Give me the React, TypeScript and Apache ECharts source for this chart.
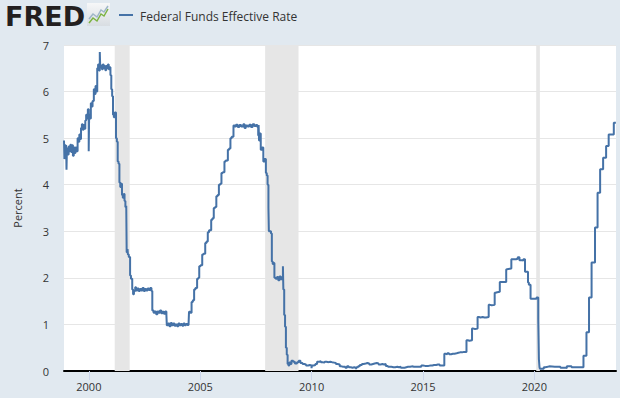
import React, { useEffect, useRef } from "react";
import * as echarts from "echarts";

const seriesName = "Federal Funds Effective Rate";
const yAxisName = "Percent";
const xTickYears = [2000, 2005, 2010, 2015, 2020];
const axisStart = "1998-11-20";
const axisEnd = "2023-09-01";

const recessions: [string, string][] = [
  ["2001-03-01", "2001-11-01"],
  ["2007-12-01", "2009-06-01"],
  ["2020-02-01", "2020-04-01"],
];

const rate1998to2002: [string, number][] = [
  ["1998-11-20", 4.95], ["1998-11-27", 4.55], ["1998-12-04", 4.85], ["1998-12-18", 4.62],
  ["1998-12-25", 4.85], ["1998-12-31", 4.32], ["1999-01-07", 4.78], ["1999-01-21", 4.65],
  ["1999-02-04", 4.82], ["1999-02-18", 4.72], ["1999-03-04", 4.86], ["1999-03-18", 4.7],
  ["1999-04-01", 4.85], ["1999-04-15", 4.62], ["1999-04-29", 4.8], ["1999-05-13", 4.68],
  ["1999-05-27", 4.8], ["1999-06-10", 4.72], ["1999-07-01", 5.0], ["1999-07-15", 4.92],
  ["1999-07-29", 5.08], ["1999-08-12", 4.98], ["1999-08-26", 5.22], ["1999-09-09", 5.3],
  ["1999-09-23", 5.18], ["1999-10-07", 5.28], ["1999-10-21", 5.2], ["1999-11-04", 5.38],
  ["1999-11-18", 5.5], ["1999-12-02", 5.42], ["1999-12-16", 5.62], ["1999-12-30", 4.72],
  ["2000-01-06", 5.5], ["2000-01-20", 5.42], ["2000-02-03", 5.75], ["2000-02-17", 5.68],
  ["2000-03-02", 5.8], ["2000-03-23", 6.05], ["2000-04-06", 5.95], ["2000-04-20", 6.12],
  ["2000-05-04", 6.0], ["2000-05-18", 6.5], ["2000-06-01", 6.58], ["2000-06-15", 6.45],
  ["2000-06-29", 6.85], ["2000-07-06", 6.52], ["2000-07-20", 6.56], ["2000-08-03", 6.48],
  ["2000-08-17", 6.58], ["2000-08-31", 6.5], ["2000-09-14", 6.55], ["2000-09-28", 6.46],
  ["2000-10-12", 6.55], ["2000-10-26", 6.5], ["2000-11-09", 6.58], ["2000-11-23", 6.48],
  ["2000-12-07", 6.52], ["2000-12-21", 6.35], ["2001-01-04", 6.05], ["2001-01-18", 5.9],
  ["2001-02-01", 5.5], ["2001-02-15", 5.45], ["2001-03-01", 5.55], ["2001-03-22", 5.0],
  ["2001-04-05", 4.92], ["2001-04-19", 4.5], ["2001-05-03", 4.45], ["2001-05-17", 4.05],
  ["2001-05-31", 3.95], ["2001-06-14", 4.02], ["2001-06-28", 3.78], ["2001-07-12", 3.72],
  ["2001-07-26", 3.8], ["2001-08-09", 3.65], ["2001-08-23", 3.52], ["2001-09-06", 3.55],
  ["2001-09-13", 2.55], ["2001-09-27", 2.62], ["2001-10-04", 2.5], ["2001-10-18", 2.45],
  ["2001-11-08", 2.05], ["2001-11-22", 1.98], ["2001-12-13", 1.75], ["2001-12-27", 1.65],
];

const rate2002to2008: [string, number][] = [
  ["2002-01-10", 1.72], ["2002-01-31", 1.8], ["2002-02-14", 1.73], ["2002-03-07", 1.77],
  ["2002-03-28", 1.72], ["2002-04-18", 1.76], ["2002-05-09", 1.73], ["2002-05-30", 1.78],
  ["2002-06-20", 1.72], ["2002-07-11", 1.76], ["2002-08-01", 1.73], ["2002-08-22", 1.77],
  ["2002-09-12", 1.74], ["2002-10-03", 1.78], ["2002-10-24", 1.72], ["2002-11-07", 1.3],
  ["2002-11-28", 1.25], ["2002-12-19", 1.28], ["2003-01-09", 1.22], ["2003-01-30", 1.28],
  ["2003-02-20", 1.25], ["2003-03-13", 1.3], ["2003-04-03", 1.24], ["2003-04-24", 1.27],
  ["2003-05-15", 1.23], ["2003-06-05", 1.28], ["2003-06-26", 1.2], ["2003-07-03", 0.98],
  ["2003-07-24", 1.02], ["2003-08-14", 0.96], ["2003-09-04", 1.03], ["2003-09-25", 0.98],
  ["2003-10-16", 1.02], ["2003-11-06", 0.97], ["2003-11-27", 1.0], ["2003-12-18", 0.96],
  ["2004-01-08", 1.02], ["2004-01-29", 0.98], ["2004-02-19", 1.01], ["2004-03-11", 0.97],
  ["2004-04-01", 1.02], ["2004-04-22", 0.98], ["2004-05-13", 1.01], ["2004-06-03", 0.99],
  ["2004-06-24", 1.02], ["2004-07-01", 1.27], ["2004-07-22", 1.25], ["2004-08-12", 1.48],
  ["2004-09-02", 1.52], ["2004-09-23", 1.75], ["2004-10-14", 1.78], ["2004-11-11", 1.98],
  ["2004-12-02", 2.0], ["2004-12-16", 2.25], ["2005-01-06", 2.27], ["2005-02-03", 2.5],
  ["2005-02-24", 2.52], ["2005-03-24", 2.75], ["2005-04-14", 2.78], ["2005-05-05", 2.98],
  ["2005-05-26", 3.02], ["2005-06-30", 3.25], ["2005-07-21", 3.28], ["2005-08-11", 3.5],
  ["2005-09-01", 3.52], ["2005-09-22", 3.75], ["2005-10-13", 3.78], ["2005-11-03", 4.0],
  ["2005-11-24", 4.02], ["2005-12-15", 4.25], ["2006-01-05", 4.27], ["2006-02-02", 4.5],
  ["2006-02-23", 4.52], ["2006-03-30", 4.75], ["2006-04-20", 4.78], ["2006-05-11", 5.0],
  ["2006-06-01", 5.03], ["2006-06-30", 5.27], ["2006-07-20", 5.25], ["2006-08-10", 5.29],
  ["2006-09-07", 5.24], ["2006-10-05", 5.28], ["2006-11-02", 5.25], ["2006-12-07", 5.3],
  ["2006-12-28", 5.22], ["2007-01-18", 5.27], ["2007-02-15", 5.25], ["2007-03-15", 5.29],
  ["2007-04-12", 5.24], ["2007-05-10", 5.3], ["2007-06-07", 5.26], ["2007-07-05", 5.28],
  ["2007-07-26", 5.24], ["2007-08-09", 5.05], ["2007-08-16", 5.28], ["2007-08-23", 4.95],
  ["2007-09-06", 5.1], ["2007-09-20", 4.75], ["2007-10-11", 4.8], ["2007-11-01", 4.5],
  ["2007-11-22", 4.55], ["2007-12-13", 4.25], ["2007-12-27", 4.2], ["2008-01-10", 4.0],
  ["2008-01-24", 3.5], ["2008-01-31", 3.0], ["2008-02-21", 3.0], ["2008-03-06", 2.95],
  ["2008-03-20", 2.35], ["2008-04-03", 2.3], ["2008-04-17", 2.32], ["2008-05-01", 2.0],
  ["2008-05-22", 1.98], ["2008-06-12", 2.02], ["2008-07-03", 1.95], ["2008-07-24", 2.03],
  ["2008-08-14", 1.97], ["2008-09-04", 2.02], ["2008-09-18", 2.25], ["2008-09-25", 1.75],
  ["2008-10-09", 1.2], ["2008-10-23", 0.95], ["2008-11-06", 0.5], ["2008-11-20", 0.35],
  ["2008-12-04", 0.15], ["2008-12-18", 0.12],
];

const rate2009to2015: [string, number][] = [
  ["2009-01-01", 0.18], ["2009-01-15", 0.15], ["2009-02-05", 0.22], ["2009-03-05", 0.2],
  ["2009-04-02", 0.16], ["2009-05-07", 0.19], ["2009-06-04", 0.22], ["2009-07-02", 0.17],
  ["2009-08-06", 0.15], ["2009-09-03", 0.14], ["2009-10-01", 0.12], ["2009-11-05", 0.13],
  ["2009-12-03", 0.12], ["2009-12-31", 0.06], ["2010-01-07", 0.12], ["2010-02-04", 0.13],
  ["2010-03-04", 0.15], ["2010-04-01", 0.2], ["2010-05-06", 0.21], ["2010-06-03", 0.19],
  ["2010-07-01", 0.18], ["2010-08-05", 0.2], ["2010-09-02", 0.19], ["2010-10-07", 0.2],
  ["2010-11-04", 0.19], ["2010-12-02", 0.18], ["2011-01-06", 0.17], ["2011-02-03", 0.15],
  ["2011-03-03", 0.14], ["2011-04-07", 0.1], ["2011-05-05", 0.09], ["2011-06-02", 0.09],
  ["2011-07-07", 0.07], ["2011-08-04", 0.1], ["2011-09-01", 0.08], ["2011-10-06", 0.07],
  ["2011-11-03", 0.08], ["2011-12-01", 0.07], ["2011-12-29", 0.04], ["2012-01-05", 0.08],
  ["2012-02-02", 0.1], ["2012-03-01", 0.13], ["2012-04-05", 0.15], ["2012-05-03", 0.16],
  ["2012-06-07", 0.17], ["2012-07-05", 0.16], ["2012-08-02", 0.14], ["2012-09-06", 0.15],
  ["2012-10-04", 0.16], ["2012-11-01", 0.17], ["2012-12-06", 0.16], ["2013-01-03", 0.14],
  ["2013-02-07", 0.15], ["2013-03-07", 0.14], ["2013-04-04", 0.15], ["2013-05-02", 0.11],
  ["2013-06-06", 0.09], ["2013-07-04", 0.09], ["2013-08-01", 0.08], ["2013-09-05", 0.08],
  ["2013-10-03", 0.09], ["2013-11-07", 0.08], ["2013-12-05", 0.09], ["2014-01-02", 0.07],
  ["2014-02-06", 0.07], ["2014-03-06", 0.08], ["2014-04-03", 0.09], ["2014-05-01", 0.09],
  ["2014-06-05", 0.1], ["2014-07-03", 0.09], ["2014-08-07", 0.09], ["2014-09-04", 0.09],
  ["2014-10-02", 0.09], ["2014-11-06", 0.09], ["2014-12-04", 0.12], ["2015-01-01", 0.11],
  ["2015-02-05", 0.11], ["2015-03-05", 0.11], ["2015-04-02", 0.12], ["2015-05-07", 0.12],
  ["2015-06-04", 0.13], ["2015-07-02", 0.13], ["2015-08-06", 0.14], ["2015-09-03", 0.14],
  ["2015-10-01", 0.12], ["2015-11-05", 0.12],
];

const rate2015to2023: [string, number][] = [
  ["2015-12-17", 0.37], ["2016-01-07", 0.36], ["2016-02-04", 0.38], ["2016-03-03", 0.36],
  ["2016-04-07", 0.37], ["2016-05-05", 0.37], ["2016-06-02", 0.38], ["2016-07-07", 0.39],
  ["2016-08-04", 0.4], ["2016-09-01", 0.4], ["2016-10-06", 0.41], ["2016-11-03", 0.41],
  ["2016-12-15", 0.66], ["2017-01-05", 0.65], ["2017-02-02", 0.66], ["2017-03-16", 0.91],
  ["2017-04-06", 0.9], ["2017-05-04", 0.91], ["2017-06-15", 1.16], ["2017-07-06", 1.15],
  ["2017-08-03", 1.16], ["2017-09-07", 1.15], ["2017-10-05", 1.15], ["2017-11-02", 1.16],
  ["2017-12-14", 1.42], ["2018-01-04", 1.41], ["2018-02-01", 1.42], ["2018-03-22", 1.68],
  ["2018-04-05", 1.69], ["2018-05-03", 1.7], ["2018-06-14", 1.91], ["2018-07-05", 1.91],
  ["2018-08-02", 1.91], ["2018-09-27", 2.18], ["2018-10-04", 2.19], ["2018-11-01", 2.2],
  ["2018-12-20", 2.4], ["2019-01-03", 2.4], ["2019-02-07", 2.4], ["2019-03-07", 2.41],
  ["2019-04-04", 2.44], ["2019-05-02", 2.38], ["2019-06-06", 2.37], ["2019-07-04", 2.4],
  ["2019-08-01", 2.13], ["2019-09-05", 2.13], ["2019-09-19", 1.9], ["2019-10-03", 1.85],
  ["2019-10-31", 1.55], ["2019-12-05", 1.55], ["2020-01-02", 1.55], ["2020-02-06", 1.58],
  ["2020-03-05", 1.1], ["2020-03-16", 0.25], ["2020-03-26", 0.08], ["2020-04-02", 0.05],
  ["2020-05-07", 0.05], ["2020-06-04", 0.08], ["2020-07-02", 0.09], ["2020-08-06", 0.1],
  ["2020-09-03", 0.09], ["2020-12-03", 0.09], ["2021-03-04", 0.07], ["2021-06-03", 0.06],
  ["2021-06-17", 0.1], ["2021-09-02", 0.08], ["2021-12-02", 0.08], ["2022-03-17", 0.33],
  ["2022-05-05", 0.83], ["2022-06-16", 1.58], ["2022-07-28", 2.33], ["2022-09-22", 3.08],
  ["2022-11-03", 3.83], ["2022-12-15", 4.33], ["2023-02-02", 4.58], ["2023-03-23", 4.83],
  ["2023-05-04", 5.08], ["2023-07-27", 5.33], ["2023-08-30", 5.33],
];

function toYear(s: string): number {
  const [y, m, d] = s.split("-").map(Number);
  const start = Date.UTC(y, 0, 1);
  const end = Date.UTC(y + 1, 0, 1);
  return y + (Date.UTC(y, m - 1, d) - start) / (end - start);
}

const FONT = "'Open Sans', 'DejaVu Sans', sans-serif";

export default function App() {
  const ref = useRef<HTMLDivElement>(null);
  useEffect(() => {
    if (!ref.current) return;
    const chart = echarts.init(ref.current, null, { renderer: "svg" });
    const allRates = [...rate1998to2002, ...rate2002to2008, ...rate2009to2015, ...rate2015to2023];
    const lineData = allRates.map(([d, v]) => [toYear(d), v]);
    chart.setOption({
      animation: false,
      backgroundColor: "#e1e9f0",
      textStyle: { fontFamily: FONT },
      grid: {
        left: 64,
        right: 4,
        top: 45,
        bottom: 27,
        show: true,
        backgroundColor: "#ffffff",
        borderWidth: 0,
        containLabel: false,
        outerBoundsMode: "none",
      },
      xAxis: {
        type: "value",
        min: toYear(axisStart),
        max: toYear(axisEnd),
        splitLine: { show: false },
        axisLine: { show: true, onZero: false, lineStyle: { color: "#000000", width: 2 } },
        axisTick: {
          show: true,
          customValues: xTickYears,
          length: 9,
          lineStyle: { color: "#ccd6eb", width: 1 },
        },
        axisLabel: {
          customValues: xTickYears,
          formatter: (v: number) => String(Math.round(v)),
          color: "#333333",
          fontSize: 11,
          fontFamily: FONT,
          margin: 10,
        },
      },
      yAxis: {
        type: "value",
        min: 0,
        max: 7,
        interval: 1,
        name: yAxisName,
        nameLocation: "middle",
        nameGap: 41,
        nameTextStyle: { color: "#333333", fontSize: 11, fontFamily: FONT },
        axisLine: { show: false },
        axisTick: { show: false },
        axisLabel: { color: "#333333", fontSize: 11, fontFamily: FONT, margin: 15 },
        splitLine: { show: true, lineStyle: { color: "#e6e6e6", width: 1 } },
      },
      graphic: [
        {
          type: "text",
          left: 5,
          top: 3,
          style: {
            text: "FRED",
            fontSize: 27,
            fontWeight: 900,
            fontFamily: "'DejaVu Sans', sans-serif",
            fill: "#231f20",
          },
        },
        {
          type: "rect",
          shape: { x: 87, y: 3, width: 23, height: 23 },
          style: {
            fill: new echarts.graphic.LinearGradient(0, 0, 0, 1, [
              { offset: 0, color: "#f6f7f8" },
              { offset: 1, color: "#d8dde2" },
            ]),
          },
        },
        {
          type: "polyline",
          shape: { points: [[89, 19], [93, 14], [97, 17], [101, 10], [104, 12], [108, 6]] },
          style: { stroke: "#9fb6c8", lineWidth: 1.5, fill: "none" },
        },
        {
          type: "polyline",
          shape: { points: [[89, 23], [93, 18], [97, 21], [101, 14], [104, 16], [108, 9]] },
          style: { stroke: "#7cb342", lineWidth: 1.5, fill: "none" },
        },
        {
          type: "line",
          shape: { x1: 119, y1: 15, x2: 133, y2: 15 },
          style: { stroke: "#4572a7", lineWidth: 2 },
        },
        {
          type: "text",
          x: 140,
          y: 16,
          style: {
            text: seriesName,
            fontSize: 12,
            fontFamily: FONT,
            fill: "#333333",
            verticalAlign: "middle",
          },
        },
      ],
      series: [
        {
          type: "line",
          name: "Recessions",
          data: [],
          silent: true,
          z: 1,
          markArea: {
            silent: true,
            itemStyle: { color: "#e6e6e6" },
            data: recessions.map(([a, b]) => [{ xAxis: toYear(a) }, { xAxis: toYear(b) }]),
          },
        },
        {
          type: "line",
          name: seriesName,
          data: lineData,
          step: "end",
          showSymbol: false,
          z: 3,
          lineStyle: { color: "#4572a7", width: 2 },
          itemStyle: { color: "#4572a7" },
        },
      ],
    });
    return () => chart.dispose();
  }, []);
  return (
    <div
      ref={ref}
      style={{ position: "fixed", left: 0, top: 0, width: 620, height: 398 }}
    />
  );
}
